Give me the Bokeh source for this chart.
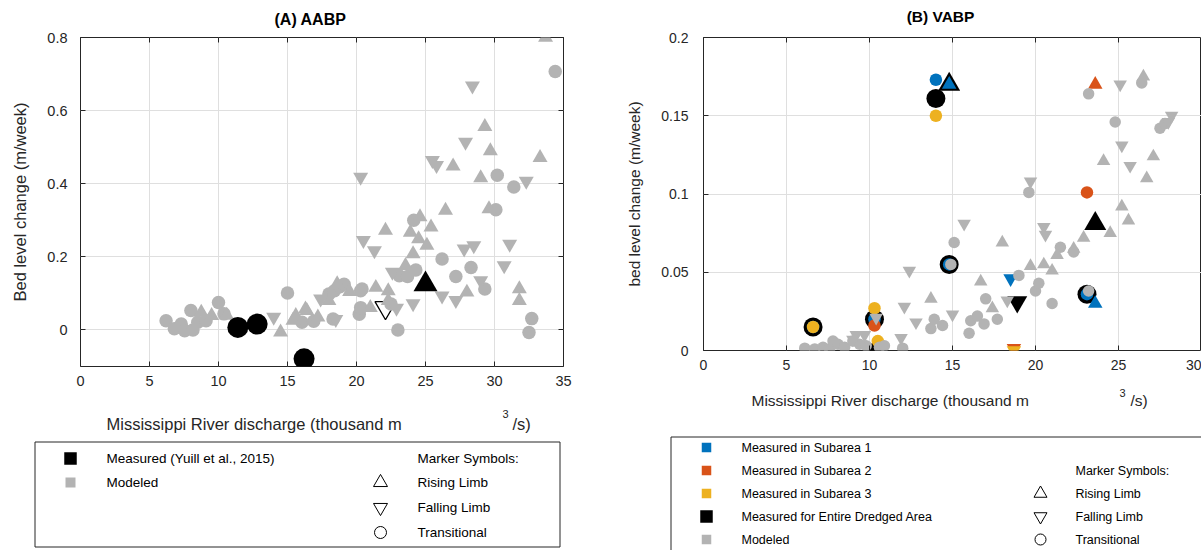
from bokeh.plotting import figure
from bokeh.models import Range1d, FixedTicker, LinearAxis, CustomJSTickFormatter
from bokeh.layouts import row, column
from bokeh.embed import file_html
from bokeh.resources import INLINE
from bokeh.core.properties import value

FONT = "Liberation Sans"
GRAY = "#b3b3b3"
BLUE = "#0072bd"
ORANGE = "#d95319"
YELLOW = "#edb120"
BLACK = "#000000"
AXC = "#262626"
GRIDC = "#dfdfdf"

# ---------------- Panel A data (AABP) ----------------
A_XTICKS = [0, 5, 10, 15, 20, 25, 30, 35]
A_YTICKS = [0, 0.2, 0.4, 0.6, 0.8]

A_mod_circ_x = [6.2, 6.8, 7.3, 7.55, 8.0, 8.15, 8.5, 9.1, 10.0, 10.4,
                15.0, 16.05, 16.9, 18.0, 18.3, 18.4, 18.8, 19.1, 20.2, 20.3,
                20.3, 20.4, 23.0, 23.1, 23.7, 24.15, 24.3, 26.2, 27.2, 28.3,
                29.3, 30.1, 30.2, 31.4, 32.5, 32.7, 34.4, 22.5]
A_mod_circ_y = [0.025, 0.003, 0.016, -0.002, 0.053, 0.0, 0.021, 0.025, 0.075, 0.044,
                0.101, 0.021, 0.024, 0.098, 0.030, 0.107, 0.118, 0.125, 0.043, 0.061,
                0.107, 0.112, 0.0, 0.148, 0.146, 0.30, 0.164, 0.194, 0.146, 0.171,
                0.112, 0.329, 0.423, 0.391, -0.007, 0.031, 0.707, 0.071]

A_mod_up_x = [8.75, 9.5, 14.5, 15.4, 15.6, 16.3, 16.4, 17.2, 18.0, 18.6,
              21.0, 21.4, 22.1, 22.3, 22.3, 23.55, 23.9, 24.5, 24.6, 25.1,
              25.4, 26.45, 27.0, 28.0, 29.0, 29.3, 29.6, 29.7, 31.8, 31.8,
              33.3, 33.7, 24.1, 19.5, 10.6]
A_mod_up_y = [0.048, 0.039, -0.006, 0.026, 0.039, 0.057, 0.053, 0.035, 0.08, 0.126,
              0.061, 0.116, 0.272, 0.107, 0.08, 0.176, 0.267, 0.249, 0.309, 0.231,
              0.281, 0.327, 0.448, 0.103, 0.416, 0.556, 0.331, 0.49, 0.112, 0.08,
              0.471, 0.80, 0.208, 0.105, 0.04]

A_mod_dn_x = [14.0, 17.4, 18.5, 20.3, 20.5, 21.3, 22.6, 24.1, 25.5, 25.8,
              26.2, 27.2, 27.8, 27.9, 28.4, 28.5, 29.0, 30.7, 31.1, 32.3, 22.9]
A_mod_dn_y = [0.035, 0.085, 0.029, 0.418, 0.245, 0.217, 0.158, 0.072, 0.464, 0.45,
              0.093, 0.081, 0.222, 0.514, 0.668, 0.231, 0.135, 0.176, 0.235, 0.407, 0.06]

A_meas_circ_x = [11.4, 12.8, 16.2]
A_meas_circ_y = [0.007, 0.016, -0.079]
A_meas_up_x = [25.0]
A_meas_up_y = [0.125]
A_meas_dn_x = [22.1]
A_meas_dn_y = [0.061]

# ---------------- Panel B data (VABP) ----------------
B_XTICKS = [0, 5, 10, 15, 20, 25, 30]
B_YTICKS = [0, 0.05, 0.1, 0.15, 0.2]

B_mod_circ_x = [6.1, 6.7, 7.2, 7.6, 7.8, 8.1, 8.5, 9.0, 9.4, 9.8,
                10.6, 10.9, 12.0, 13.7, 13.9, 14.4, 14.9, 15.1, 16.0, 16.1,
                16.5, 16.9, 17.0, 17.7, 19.0, 19.6, 20.0, 20.2, 21.0, 21.5,
                22.3, 23.2, 23.2, 24.8, 26.4, 27.5, 27.8]
B_mod_circ_y = [0.0015, 0.001, 0.002, 0.001, 0.006, 0.004, 0.002, 0.006, 0.004, 0.003,
                0.002, 0.003, 0.0015, 0.014, 0.020, 0.016, 0.055, 0.069, 0.011, 0.019,
                0.022, 0.017, 0.033, 0.020, 0.048, 0.101, 0.038, 0.043, 0.030, 0.066,
                0.063, 0.038, 0.164, 0.146, 0.171, 0.142, 0.145]

B_mod_up_x = [13.7, 16.7, 17.4, 18.0, 19.7, 20.5, 21.0, 21.3, 22.3, 22.9,
              24.1, 24.5, 25.2, 25.6, 26.5, 26.7, 27.1]
B_mod_up_y = [0.033, 0.044, 0.027, 0.069, 0.054, 0.055, 0.051, 0.061, 0.065, 0.072,
              0.121, 0.075, 0.092, 0.083, 0.175, 0.110, 0.124]

B_mod_dn_x = [9.0, 9.2, 9.7, 10.4, 11.9, 12.1, 12.4, 12.8, 15.0, 15.7,
              18.3, 19.7, 20.5, 20.6, 25.1, 25.2, 25.7, 28.0, 28.2]
B_mod_dn_y = [0.007, 0.0099, 0.010, 0.021, 0.008, 0.028, 0.051, 0.018, 0.023, 0.081,
              0.032, 0.108, 0.079, 0.074, 0.170, 0.131, 0.118, 0.146, 0.150]

# Measured for entire dredged area (black)
B_ent_circ_x = [6.6, 10.3, 10.5, 14.0, 14.8, 23.1]
B_ent_circ_y = [0.015, 0.020, 0.0, 0.161, 0.055, 0.036]
B_ent_up_x = [14.8, 23.6]
B_ent_up_y = [0.170, 0.081]
B_ent_dn_x = [18.9]
B_ent_dn_y = [0.031]

# Subarea 1 (blue)
B_s1_circ_x = [6.6, 10.3, 14.0, 14.8, 23.1]
B_s1_circ_y = [0.015, 0.020, 0.173, 0.055, 0.036]
B_s1_up_x = [14.8, 23.6]
B_s1_up_y = [0.170, 0.030]
B_s1_dn_x = [18.5]
B_s1_dn_y = [0.046]

# Subarea 2 (orange)
B_s2_circ_x = [23.1, 10.3]
B_s2_circ_y = [0.101, 0.016]
B_s2_up_x = [23.6]
B_s2_up_y = [0.170]
B_s2_dn_x = [18.7]
B_s2_dn_y = [0.0015]

# Subarea 3 (yellow)
B_s3_circ_x = [6.6, 10.3, 14.0, 10.5]
B_s3_circ_y = [0.015, 0.027, 0.150, 0.006]
B_s3_dn_x = [18.7]
B_s3_dn_y = [0.0]

# ---------------- Texts ----------------
TITLE_A = "(A) AABP"
TITLE_B = "(B) VABP"
YLABEL_A = "Bed level change (m/week)"
YLABEL_B = "bed level change (m/week)"
XLABEL_PARTS = ["Mississippi River discharge (thousand m", "3", "/s)"]

LEG_A_LABELS = ["Measured (Yuill et al., 2015)", "Modeled"]
LEG_A_COLORS = [BLACK, GRAY]
LEG_A_SIZES = [12.5, 10]
LEG_B_LABELS = ["Measured in Subarea 1", "Measured in Subarea 2", "Measured in Subarea 3",
                "Measured for Entire Dredged Area", "Modeled"]
LEG_B_COLORS = [BLUE, ORANGE, YELLOW, BLACK, GRAY]
LEG_B_SIZES = [9.5, 9.5, 9.5, 12.5, 9.5]
SYM_HEADER = "Marker Symbols:"
SYM_LABELS = ["Rising Limb", "Falling Limb", "Transitional"]
SYM_MARKERS = ["triangle", "inverted_triangle", "circle"]


def fmt():
    return CustomJSTickFormatter(code="return String(Number(tick.toFixed(4)));")


def blank_fmt():
    return CustomJSTickFormatter(code="return '';")


def make_panel(width, height, mbl, mbr, mbt, mbb, xr, yr, xticks, yticks,
               tick_px, ylabel, ylabel_px, ystand, ylab_stand, xstand, right_axis):
    p = figure(width=width, height=height, x_range=Range1d(*xr), y_range=Range1d(*yr),
               output_backend="svg", toolbar_location=None,
               min_border_left=mbl, min_border_right=mbr,
               min_border_top=mbt, min_border_bottom=mbb)
    p.frame_align = False
    p.outline_line_color = AXC
    p.outline_line_width = 1
    p.background_fill_color = "white"
    p.border_fill_color = "white"
    xt = FixedTicker(ticks=xticks)
    yt = FixedTicker(ticks=yticks)
    for ax, tk, st in ((p.xaxis[0], xt, xstand), (p.yaxis[0], yt, ystand)):
        ax.ticker = tk
        ax.formatter = fmt()
        ax.axis_line_color = None
        ax.major_tick_in = 5
        ax.major_tick_out = 0
        ax.major_tick_line_color = AXC
        ax.minor_tick_line_color = None
        ax.major_label_text_font = FONT
        ax.major_label_text_font_size = tick_px
        ax.major_label_text_color = AXC
        ax.major_label_standoff = st
    p.yaxis[0].axis_label = ylabel
    p.yaxis[0].axis_label_text_font = FONT
    p.yaxis[0].axis_label_text_font_size = ylabel_px
    p.yaxis[0].axis_label_text_font_style = "normal"
    p.yaxis[0].axis_label_text_color = AXC
    p.yaxis[0].axis_label_standoff = ylab_stand
    p.xgrid[0].ticker = xt
    p.ygrid[0].ticker = yt
    for g in (p.xgrid[0], p.ygrid[0]):
        g.grid_line_color = GRIDC
        g.grid_line_width = 1
    extra = [("above", xt)]
    if right_axis:
        extra.append(("right", yt))
    for side, tk in extra:
        ax = LinearAxis(ticker=tk, formatter=blank_fmt(), axis_line_color=None,
                        major_tick_in=5, major_tick_out=0, major_tick_line_color=AXC,
                        minor_tick_line_color=None, major_label_text_font_size="1px",
                        major_label_standoff=0)
        p.add_layout(ax, side)
    return p


def text_fig(width, height):
    p = figure(width=width, height=height, x_range=Range1d(0, width), y_range=Range1d(0, height),
               output_backend="svg", toolbar_location=None,
               x_axis_location=None, y_axis_location=None,
               min_border_left=0, min_border_right=0, min_border_top=0, min_border_bottom=0)
    p.frame_align = False
    p.grid.visible = False
    p.outline_line_color = None
    p.background_fill_color = "white"
    p.border_fill_color = "white"
    return p


def put_text(p, xs, ys, texts, size, color=AXC, align="left", style="normal"):
    p.text(xs, ys, text=texts, text_font=value(FONT), text_font_size=size,
           text_baseline="middle", text_align=align, text_color=color,
           text_font_style=style)


# ---------------- Titles (canvas page y 0..30) ----------------
tA = text_fig(600, 30)
put_text(tA, [310], [11], [TITLE_A], "16px", BLACK, "center", "bold")
tB = text_fig(601, 30)
put_text(tB, [340], [14.5], [TITLE_B], "15.5px", BLACK, "center", "bold")

# ---------------- Panel A (canvas page y 30..398) ----------------
pA = make_panel(600, 368, 80, 37, 7, 32, (0, 35), (-0.1, 0.8), A_XTICKS, A_YTICKS,
                "14.5px", YLABEL_A, "16.5px", 13, 15, 9, True)

pA.scatter(A_meas_dn_x, A_meas_dn_y, marker="inverted_triangle", size=21,
           fill_color=None, line_color=BLACK, line_width=1.3)
pA.scatter(A_mod_circ_x, A_mod_circ_y, marker="circle", size=13.5, fill_color=GRAY, line_color=None)
pA.scatter(A_mod_up_x, A_mod_up_y, marker="triangle", size=15, fill_color=GRAY, line_color=None)
pA.scatter(A_mod_dn_x, A_mod_dn_y, marker="inverted_triangle", size=15, fill_color=GRAY, line_color=None)
pA.scatter(A_meas_circ_x, A_meas_circ_y, marker="circle", size=21, fill_color=BLACK, line_color=None)
pA.scatter(A_meas_up_x, A_meas_up_y, marker="triangle", size=24, fill_color=BLACK, line_color=None)

# ---------------- Panel B (canvas page y 30..380) ----------------
pB = make_panel(601, 350, 103, 0, 7, 30, (0, 30), (0, 0.2), B_XTICKS, B_YTICKS,
                "14px", YLABEL_B, "15.5px", 15, 15, 9, False)

pB.scatter(B_ent_circ_x, B_ent_circ_y, marker="circle", size=19, fill_color=BLACK, line_color=None)
pB.scatter(B_ent_up_x, B_ent_up_y, marker="triangle", size=22, fill_color=BLACK, line_color=None)
pB.scatter(B_ent_dn_x, B_ent_dn_y, marker="inverted_triangle", size=20, fill_color=BLACK, line_color=None)
for cx, cy, ux, uy, dx, dy, col in (
        (B_s1_circ_x, B_s1_circ_y, B_s1_up_x, B_s1_up_y, B_s1_dn_x, B_s1_dn_y, BLUE),
        (B_s2_circ_x, B_s2_circ_y, B_s2_up_x, B_s2_up_y, B_s2_dn_x, B_s2_dn_y, ORANGE),
        (B_s3_circ_x, B_s3_circ_y, [], [], B_s3_dn_x, B_s3_dn_y, YELLOW)):
    pB.scatter(cx, cy, marker="circle", size=12.5, fill_color=col, line_color=None)
    if ux:
        pB.scatter(ux, uy, marker="triangle", size=14.5, fill_color=col, line_color=None)
    pB.scatter(dx, dy, marker="inverted_triangle", size=14.5, fill_color=col, line_color=None)
pB.scatter(B_mod_circ_x, B_mod_circ_y, marker="circle", size=11.5, fill_color=GRAY, line_color=None)
pB.scatter(B_mod_up_x, B_mod_up_y, marker="triangle", size=13.5, fill_color=GRAY, line_color=None)
pB.scatter(B_mod_dn_x, B_mod_dn_y, marker="inverted_triangle", size=13.5, fill_color=GRAY, line_color=None)

# ---------------- Bottom A: x label + legend (canvas page y 398..550) ----------------
bA = text_fig(600, 152)
put_text(bA, [106, 512], [127, 127], [XLABEL_PARTS[0], XLABEL_PARTS[2]], "16.5px")
put_text(bA, [502], [137], [XLABEL_PARTS[1]], "11px")
bA.quad(left=[34.5], right=[559.5], bottom=[3.5], top=[108.5], fill_color=None,
        line_color=AXC, line_width=1)
rowsA = [92, 68, 43, 18]
nA = len(LEG_A_LABELS)
bA.scatter([70] * nA, rowsA[:nA], marker="square", size=LEG_A_SIZES,
           fill_color=LEG_A_COLORS, line_color=None)
put_text(bA, [106] * nA, rowsA[:nA], LEG_A_LABELS, "13.5px", BLACK)
put_text(bA, [417], [rowsA[0]], [SYM_HEADER], "13.5px", BLACK)
bA.scatter([380] * 3, rowsA[1:], marker=SYM_MARKERS, size=[14, 14, 12],
           fill_color=None, line_color=BLACK, line_width=1)
put_text(bA, [417] * 3, rowsA[1:], SYM_LABELS, "13.5px", BLACK)

# ---------------- Bottom B: x label + legend (canvas page y 380..550, x 600..1201) ----------------
bB = text_fig(601, 170)
put_text(bB, [151, 530], [150, 150], [XLABEL_PARTS[0], XLABEL_PARTS[2]], "15.5px")
put_text(bB, [519], [158], [XLABEL_PARTS[1]], "11px")
bB.segment(x0=[70.5, 70.5], y0=[113.5, 113.5], x1=[601, 70.5], y1=[113.5, 0],
           line_color=AXC, line_width=1)
rowsB = [103, 80, 57, 34, 11]
nB = len(LEG_B_LABELS)
bB.scatter([106] * nB, rowsB, marker="square", size=LEG_B_SIZES,
           fill_color=LEG_B_COLORS, line_color=None)
put_text(bB, [141] * nB, rowsB, LEG_B_LABELS, "12.5px", BLACK)
put_text(bB, [475], [rowsB[1]], [SYM_HEADER], "12.5px", BLACK)
bB.scatter([440] * 3, rowsB[2:], marker=SYM_MARKERS, size=[13, 13, 11],
           fill_color=None, line_color=BLACK, line_width=1)
put_text(bB, [475] * 3, rowsB[2:], SYM_LABELS, "12.5px", BLACK)

layout = row(column(tA, pA, bA), column(tB, pB, bB))
open("out.html", "w").write(file_html(layout, INLINE))
